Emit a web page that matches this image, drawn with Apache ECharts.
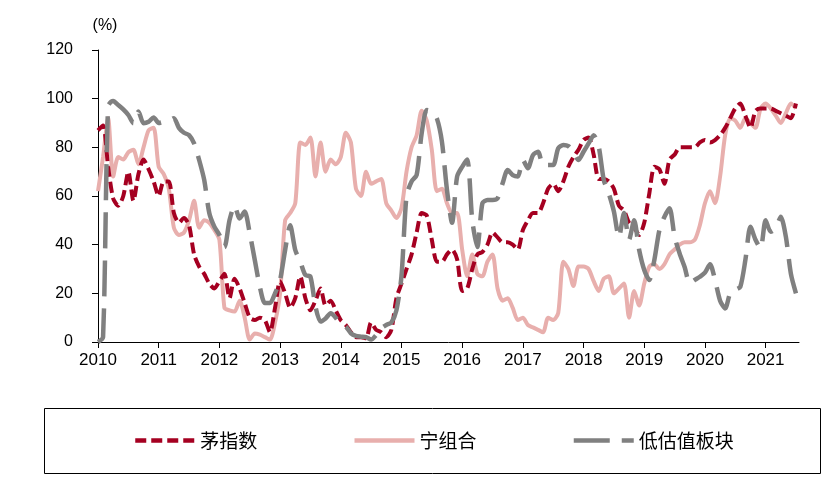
<!DOCTYPE html>
<html><head><meta charset="utf-8">
<script src="https://cdn.jsdelivr.net/npm/echarts@6/dist/echarts.min.js"></script>
<style>html,body{margin:0;padding:0;background:#fff}#c{width:838px;height:479px}</style>
</head><body><div id="c"></div>
<script>
// monthly values, Jan 2010 .. Jul 2021
const yearLabels = ['2010','2011','2012','2013','2014','2015','2016','2017','2018','2019','2020','2021'];
const seriesNames = ['茅指数', '宁组合', '低估值板块'];
const maoIndex = [
  87, 89, 72, 59, 56, 60, 70, 58, 69, 75, 71, 66,
  60, 66, 66, 53, 49, 51, 48, 36, 31, 28, 24, 22,
  25, 28, 18, 26, 22, 16, 10, 9, 10, 9, 4, 14,
  25, 20, 14, 18, 27, 18, 13, 17, 22, 15, 17, 13,
  9, 7, 4, 2, 2, 1.5, 8, 5, 4, 2, 5, 18,
  24, 30, 36, 45, 53, 52, 42, 33, 33, 36, 38, 34,
  21, 22, 30, 36, 37, 40, 45, 43, 41, 41, 40, 38,
  46, 50, 53, 53, 57, 63, 65, 62, 66, 72, 76, 79,
  83, 84, 77, 67, 67, 66, 63, 56, 54, 49, 47, 44,
  49, 61, 72, 71, 65, 75, 77, 80, 80, 80, 80, 82,
  83, 82, 83, 85, 88, 92, 96, 98, 93, 88, 95, 96,
  96, 96, 95, 94, 93, 92, 98
];
const ningCombo = [
  62, 76, 92, 68, 76, 75, 78, 79, 73, 80, 87, 88,
  72, 69, 63, 47, 44, 45, 50, 58, 47, 50, 49, 46,
  42, 14, 13, 12.5, 17, 10, 1, 3.5, 3, 2, 1, 8,
  20, 50, 53, 57, 82, 81, 84, 68, 82, 70, 75, 73,
  76, 86, 82, 63, 60, 70, 65, 66, 67, 57, 54, 51,
  55, 70, 80, 85, 95, 91, 79, 62, 63, 57, 53, 53,
  38, 27, 36, 28, 27, 33, 36, 22, 17, 18, 14, 9,
  10, 7, 6, 5, 4, 10, 9, 12, 33, 30, 23, 31,
  31, 30, 25, 21, 26, 27, 20, 22, 24, 10, 21, 15,
  24, 31, 32, 30, 32, 36, 38, 40, 41, 41, 42, 48,
  57, 62, 57, 68, 85, 92, 91, 88, 92, 90, 88, 96,
  98, 96, 93, 90, 94, 98, 96
];
const lowValuation = [
  0, 2, 97, 99, 97.4, 95.6, 93.3, 89.9, 94.7, 89.9, 90.5, 92.3,
  90, 90.5, 91, 92, 88, 86, 85, 81.6, 74.8, 66.6, 53, 47.4,
  44, 39, 50, 56, 50.8, 53.6, 44.7, 33.7, 22.7, 16, 16, 20,
  25.5, 37.8, 48, 37.8, 33, 27.5, 26.8, 14.5, 8.4, 9.7, 11.8, 10,
  7, 6.3, 3.6, 2.5, 2.2, 2, 1, 2.9, 5.6, 7, 8, 13,
  27, 60, 66, 68.6, 85.8, 95.3, 94.7, 91.9, 82.3, 62.5, 49, 68,
  72, 75, 50, 39, 57, 58.4, 58.4, 59, 65.2, 70.7, 68.6, 68,
  74.8, 71.4, 76.8, 78.2, 72.7, 72.7, 72.7, 79.6, 81, 80.5, 78, 74.8,
  78.2, 81.6, 85, 80.3, 66.6, 61, 53.6, 43, 53, 42, 50, 37.8,
  29.6, 25.5, 33.7, 46, 51.5, 55, 43.3, 36.4, 30.7, 24.1, 25.5, 26.8,
  28.5, 32, 25.5, 17, 13.8, 20, 21.4, 22.7, 33.7, 47.4, 42, 38.5,
  50, 45.3, 46.7, 51.5, 43.3, 28, 20
];

const toPairs = arr => arr.map((v, i) => [i, v]);
const yearTicks = yearLabels.map((_, i) => i * 12);
const axisFont = 'Liberation Sans, Arial, sans-serif';

const chart = echarts.init(document.getElementById('c'), null, {renderer: 'canvas'});
chart.setOption({
  animation: false,
  backgroundColor: '#fff',
  grid: {left: 98, right: 39, top: 50, bottom: 137},
  xAxis: {
    type: 'value', min: 0, max: 138.6, interval: 12,
    axisLine: {lineStyle: {color: '#000', width: 1}},
    axisTick: {show: true, customValues: yearTicks, length: 6, lineStyle: {color: '#000'}},
    axisLabel: {customValues: yearTicks, formatter: v => yearLabels[Math.round(v / 12)],
      color: '#000', fontSize: 17, fontFamily: axisFont, margin: 10},
    splitLine: {show: false}
  },
  yAxis: {
    type: 'value', min: 0, max: 120, interval: 20,
    name: '(%)', nameLocation: 'end', nameGap: 16,
    nameTextStyle: {color: '#000', fontSize: 16, fontFamily: axisFont, padding: [0, 0, 0, 14]},
    axisLine: {show: true, lineStyle: {color: '#000', width: 1}},
    axisTick: {show: true, length: 6, lineStyle: {color: '#000'}},
    axisLabel: {color: '#000', fontSize: 16, fontFamily: axisFont, margin: 25},
    splitLine: {show: false}
  },
  legend: {
    data: seriesNames, left: 128, top: 426, itemWidth: 60, itemHeight: 20, itemGap: 95,
    itemStyle: {opacity: 0},
    lineStyle: {width: 4.5},
    textStyle: {fontFamily: 'Noto Sans CJK SC', fontSize: 19, color: '#000'}
  },
  graphic: [{
    type: 'rect', left: 42, top: 406, silent: true,
    shape: {width: 776, height: 65},
    style: {fill: 'none', stroke: '#000', lineWidth: 1}
  }],
  series: [
    {name: seriesNames[0], type: 'line', data: toPairs(maoIndex), symbol: 'none', smooth: 0.25, z: 3,
      lineStyle: {color: '#A50021', width: 4, type: [11, 5]}, itemStyle: {color: '#A50021'}},
    {name: seriesNames[1], type: 'line', data: toPairs(ningCombo), symbol: 'none', smooth: 0.25, z: 2,
      lineStyle: {color: '#E8AFAD', width: 4, type: 'solid'}, itemStyle: {color: '#E8AFAD'}},
    {name: seriesNames[2], type: 'line', data: toPairs(lowValuation), symbol: 'none', smooth: 0.25, z: 4,
      lineStyle: {color: '#808080', width: 4.5, type: [36, 12]}, itemStyle: {color: '#808080'}}
  ]
});
</script></body></html>
